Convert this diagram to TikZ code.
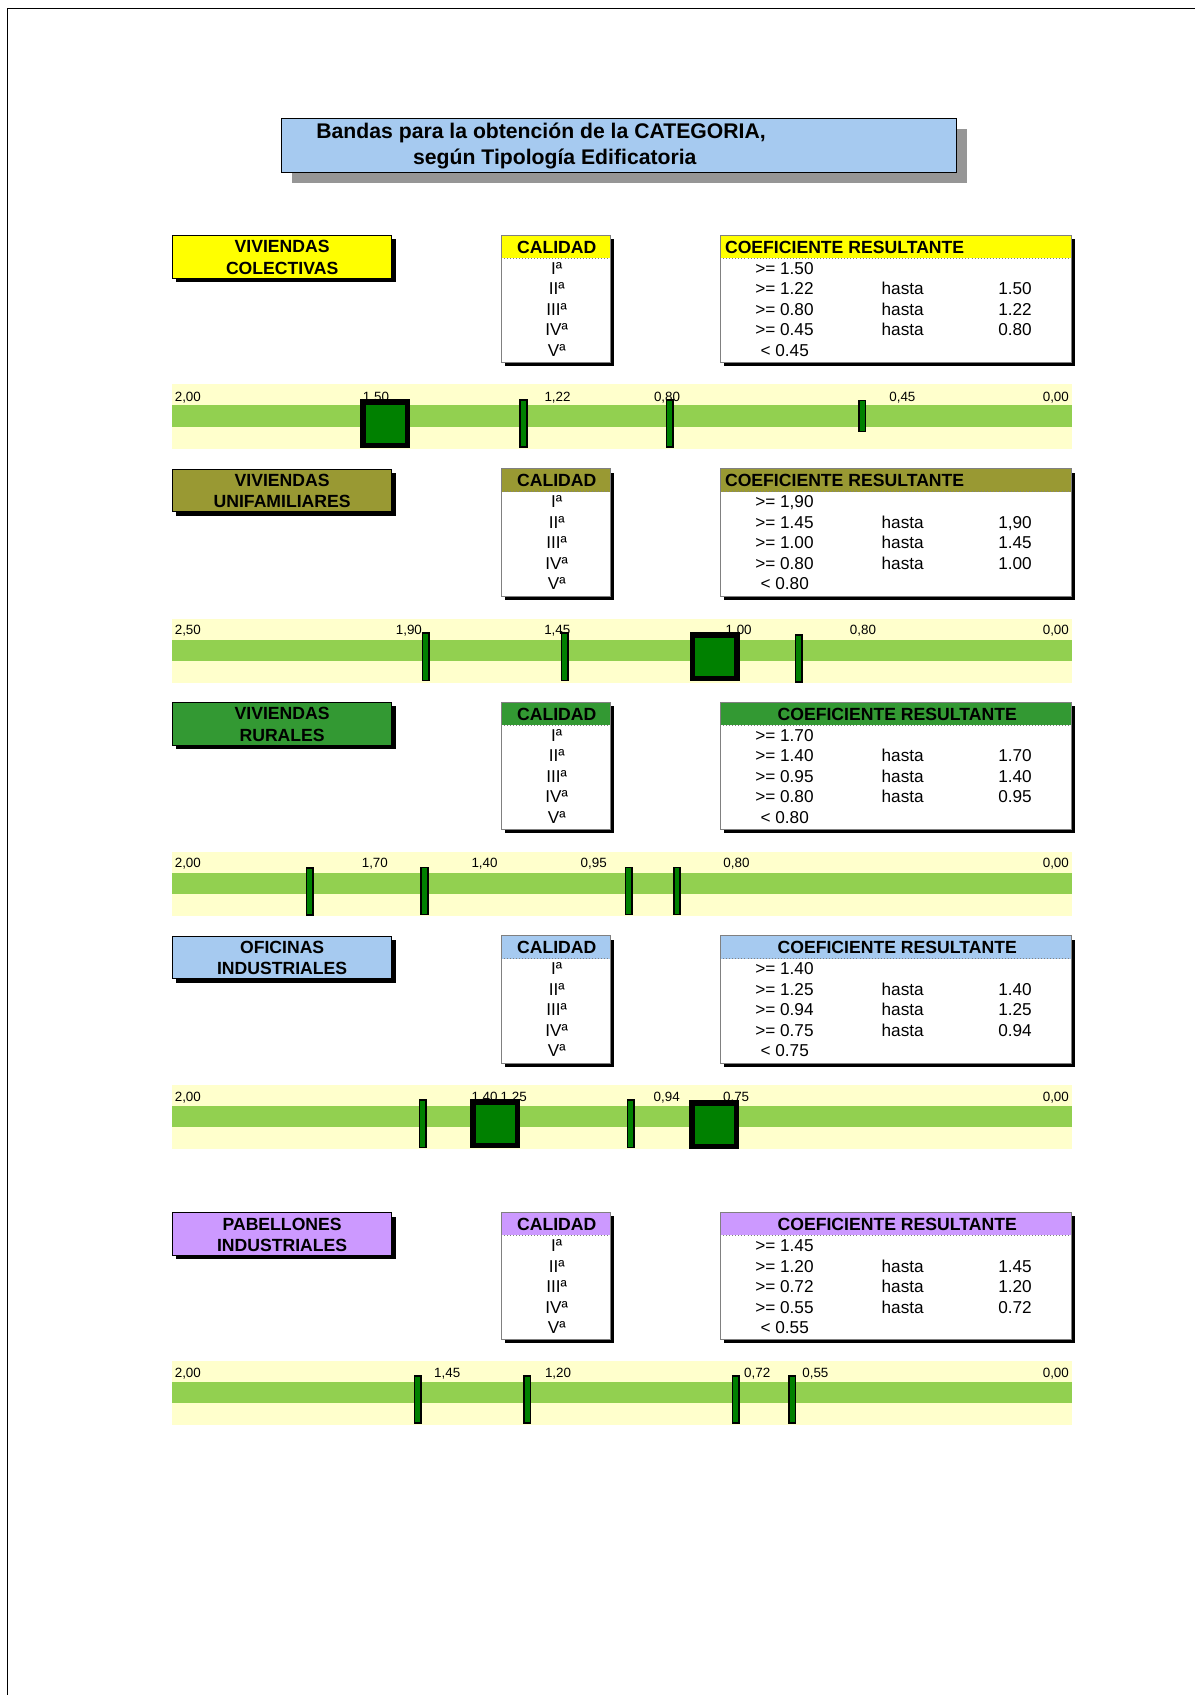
\documentclass[tikz,border=0pt]{standalone}
\usepackage{fontspec}
\setmainfont{Liberation Sans}
\definecolor{titleblue}{HTML}{A6CAF0}
\definecolor{catyellow}{HTML}{FFFF00}
\definecolor{catolive}{HTML}{999933}
\definecolor{catgreen}{HTML}{339933}
\definecolor{catblue}{HTML}{A6CAF0}
\definecolor{catlilac}{HTML}{CC99FF}
\definecolor{bandlight}{HTML}{FFFFCC}
\definecolor{bandgreen}{HTML}{92D050}
\definecolor{mkgreen}{HTML}{008000}
\definecolor{shadowgray}{HTML}{969696}
\definecolor{rulegray}{HTML}{808080}

\newcommand\CatBlock[7]{%
  \fill[black] (163,#2+4) rectangle (366,#2+43.5);
  \node[catlabel, fill=#3] (lab#1) at (159,#2) {};
  \node[boldtxt, anchor=base] (lab#1a) at (261,#2+16.5) {#4};
  \node[boldtxt, anchor=base] (lab#1b) at (261,#2+36) {#5};
  \fill[black] (467.2,#2+3.7) rectangle (568.3,#2+121.2);
  \node[tablebox, minimum width=101.2pt] (cal#1) at (463.4,#2) {};
  \node[headbox, fill=#3, minimum width=101.2pt] (calh#1) at (463.4,#2) {};
  \draw[headrule] (calh#1.south west) -- (calh#1.south east);
  \draw[tableframe] (cal#1.north west) rectangle (cal#1.south east);
  \node[boldtxt, anchor=base] (calt#1) at (515,#2+17) {CALIDAD};
  \node[rowtxt, anchor=base] (cal#1r1) at (515,#2+36.2) {Iª};
  \node[rowtxt, anchor=base] (cal#1r2) at (515,#2+55.2) {IIª};
  \node[rowtxt, anchor=base] (cal#1r3) at (515,#2+74.2) {IIIª};
  \node[rowtxt, anchor=base] (cal#1r4) at (515,#2+93.2) {IVª};
  \node[rowtxt, anchor=base] (cal#1r5) at (515,#2+112.2) {Vª};
  \fill[black] (670,#2+3.7) rectangle (994,#2+121.2);
  \node[tablebox, minimum width=324pt] (coe#1) at (666.3,#2) {};
  \node[headbox, fill=#3, minimum width=324pt] (coeh#1) at (666.3,#2) {};
  \draw[headrule] (coeh#1.south west) -- (coeh#1.south east);
  \draw[tableframe] (coe#1.north west) rectangle (coe#1.south east);
  \node[boldtxt, anchor=#7] (coet#1) at (#6,#2+17) {COEFICIENTE RESULTANTE};
}
\newcommand\CoefRows[6]{%
  \node[rowtxt, anchor=base west] (coe#1a1) at (698.5,#2+36.2) {>= #3};
  \node[rowtxt, anchor=base west] (coe#1a2) at (698.5,#2+55.2) {>= #4};
  \node[rowtxt, anchor=base west] (coe#1h2) at (815.4,#2+55.2) {hasta};
  \node[rowtxt, anchor=base west] (coe#1b2) at (923.3,#2+55.2) {#3};
  \node[rowtxt, anchor=base west] (coe#1a3) at (698.5,#2+74.2) {>= #5};
  \node[rowtxt, anchor=base west] (coe#1h3) at (815.4,#2+74.2) {hasta};
  \node[rowtxt, anchor=base west] (coe#1b3) at (923.3,#2+74.2) {#4};
  \node[rowtxt, anchor=base west] (coe#1a4) at (698.5,#2+93.2) {>= #6};
  \node[rowtxt, anchor=base west] (coe#1h4) at (815.4,#2+93.2) {hasta};
  \node[rowtxt, anchor=base west] (coe#1b4) at (923.3,#2+93.2) {#5};
  \node[rowtxt, anchor=base west] (coe#1a5) at (703.4,#2+112.2) {< #6};
}
\newcommand\Band[2]{%
  \node[bandbg] (band#1) at (159,#2) {};
  \node[bandstripe] (stripe#1) at (159,#2+19.4) {};
}

\begin{document}
\begin{tikzpicture}[x=1pt,y=-1pt,
  catlabel/.style={draw=black, line width=0.8pt, anchor=north west, minimum width=203pt, minimum height=39.5pt, inner sep=0pt},
  boldtxt/.style={font=\fontsize{16.3}{19}\selectfont\bfseries, inner sep=0pt},
  rowtxt/.style={font=\fontsize{15.9}{19}\selectfont, inner sep=0pt},
  ticktxt/.style={font=\fontsize{12.4}{14}\selectfont, inner sep=0pt},
  titletxt/.style={font=\fontsize{19.6}{23}\selectfont\bfseries, inner sep=0pt},
  tablebox/.style={anchor=north west, minimum height=117.5pt, fill=white, inner sep=0pt},
  headbox/.style={anchor=north west, minimum height=21pt, inner sep=0pt},
  headrule/.style={rulegray, line width=0.8pt, dotted},
  tableframe/.style={rulegray, line width=0.8pt},
  bandbg/.style={anchor=north west, fill=bandlight, minimum width=832.8pt, minimum height=59.5pt, inner sep=0pt},
  bandstripe/.style={anchor=north west, fill=bandgreen, minimum width=832.8pt, minimum height=20pt, inner sep=0pt},
  thinmk/.style={draw=black, line width=1.5pt, fill=mkgreen, minimum width=6pt, minimum height=43.5pt, inner sep=0pt},
  shortmk/.style={draw=black, line width=1.2pt, fill=mkgreen, minimum width=6pt, minimum height=28.5pt, inner sep=0pt},
  bigmk/.style={draw=black, line width=5pt, fill=mkgreen, minimum width=41pt, minimum height=40pt, inner sep=0pt},
]
\useasboundingbox (0,0) rectangle (1105,1568);
% page frame
\draw[line width=1.5pt] (7,1568) -- (7,7.7) -- (1105,7.7);

% title
\fill[shadowgray] (270,119.5) rectangle (894.5,169);
\node[anchor=north west, draw=black, line width=0.9pt, fill=titleblue, minimum width=624.5pt, minimum height=49.5pt, inner sep=0pt] (title) at (260,109.5) {};
\node[titletxt, anchor=base west] (title1) at (292.5,128.5) {Bandas para la obtención de la CATEGORIA,};
\node[titletxt, anchor=base west] (title2) at (382,152.5) {según Tipología Edificatoria};

% ---------------- section 1
\CatBlock{1}{217.5}{catyellow}{VIVIENDAS}{COLECTIVAS}{670.5}{base west}
\CoefRows{1}{217.5}{1.50}{1.22}{0.80}{0.45}
\Band{1}{355.4}
\node[ticktxt, anchor=base west] (t1a) at (161.5,371.1) {2,00};
\node[ticktxt, anchor=base west] (t1b) at (335.5,371.1) {1,50};
\node[ticktxt, anchor=base west] (t1c) at (503.5,371.1) {1,22};
\node[ticktxt, anchor=base west] (t1d) at (604.8,371.1) {0,80};
\node[ticktxt, anchor=base west] (t1e) at (822.5,371.1) {0,45};
\node[ticktxt, anchor=base east] (t1f) at (989,371.1) {0,00};
\node[bigmk] (m1a) at (356.4,391.9) {};
\node[thinmk] (m1b) at (484.3,391.9) {};
\node[thinmk] (m1c) at (619.5,391.9) {};
\node[shortmk] (m1d) at (797.6,384.9) {};

% ---------------- section 2
\CatBlock{2}{433.5}{catolive}{VIVIENDAS}{UNIFAMILIARES}{670.5}{base west}
\CoefRows{2}{433.5}{1,90}{1.45}{1.00}{0.80}
\Band{2}{572.3}
\node[ticktxt, anchor=base west] (t2a) at (161.5,586.8) {2,50};
\node[ticktxt, anchor=base west] (t2b) at (366,586.8) {1,90};
\node[ticktxt, anchor=base west] (t2c) at (503.3,586.8) {1,45};
\node[ticktxt, anchor=base west] (t2d) at (671,586.8) {1,00};
\node[ticktxt, anchor=base west] (t2e) at (786,586.8) {0,80};
\node[ticktxt, anchor=base east] (t2f) at (989,586.8) {0,00};
\node[thinmk] (m2a) at (394,607.6) {};
\node[thinmk] (m2b) at (522.5,607.6) {};
\node[bigmk] (m2c) at (661.1,607.6) {};
\node[thinmk] (m2d) at (738.8,608.9) {};

% ---------------- section 3
\CatBlock{3}{649.5}{catgreen}{VIVIENDAS}{RURALES}{830}{base}
\CoefRows{3}{649.5}{1.70}{1.40}{0.95}{0.80}
\Band{3}{787.6}
\node[ticktxt, anchor=base west] (t3a) at (161.5,802.6) {2,00};
\node[ticktxt, anchor=base west] (t3b) at (334.5,802.6) {1,70};
\node[ticktxt, anchor=base west] (t3c) at (436,802.6) {1,40};
\node[ticktxt, anchor=base west] (t3d) at (537,802.6) {0,95};
\node[ticktxt, anchor=base west] (t3e) at (669,802.6) {0,80};
\node[ticktxt, anchor=base east] (t3f) at (989,802.6) {0,00};
\node[thinmk] (m3a) at (286.6,824.8) {};
\node[thinmk] (m3b) at (392.7,824.3) {};
\node[thinmk] (m3c) at (581.6,824.3) {};
\node[thinmk] (m3d) at (626.3,824.3) {};

% ---------------- section 4
\CatBlock{4}{865.5}{catblue}{OFICINAS}{INDUSTRIALES}{830}{base}
\CoefRows{4}{865.5}{1.40}{1.25}{0.94}{0.75}
\Band{4}{1003.2}
\node[ticktxt, anchor=base west] (t4a) at (161.5,1018.5) {2,00};
\node[ticktxt, anchor=base west] (t4b) at (436,1018.5) {1,40};
\node[ticktxt, anchor=base west] (t4c) at (463,1018.5) {1,25};
\node[ticktxt, anchor=base west] (t4d) at (604.5,1018.5) {0,94};
\node[ticktxt, anchor=base west] (t4e) at (668.7,1018.5) {0,75};
\node[ticktxt, anchor=base east] (t4f) at (989,1018.5) {0,00};
\node[thinmk] (m4a) at (391,1039.6) {};
\node[bigmk] (m4b) at (458.1,1039.6) {};
\node[thinmk] (m4c) at (583.4,1039.6) {};
\node[bigmk] (m4d) at (660.8,1040.4) {};

% ---------------- section 5
\CatBlock{5}{1121.5}{catlilac}{PABELLONES}{INDUSTRIALES}{830}{base}
\CoefRows{5}{1121.5}{1.45}{1.20}{0.72}{0.55}
\Band{5}{1258.7}
\node[ticktxt, anchor=base west] (t5a) at (161.5,1274) {2,00};
\node[ticktxt, anchor=base west] (t5b) at (401.4,1274) {1,45};
\node[ticktxt, anchor=base west] (t5c) at (504,1274) {1,20};
\node[ticktxt, anchor=base west] (t5d) at (688.2,1274) {0,72};
\node[ticktxt, anchor=base west] (t5e) at (742,1274) {0,55};
\node[ticktxt, anchor=base east] (t5f) at (989,1274) {0,00};
\node[thinmk] (m5a) at (386.3,1294.9) {};
\node[thinmk] (m5b) at (487.7,1294.9) {};
\node[thinmk] (m5c) at (680.6,1294.9) {};
\node[thinmk] (m5d) at (733,1294.9) {};
\end{tikzpicture}
\end{document}
